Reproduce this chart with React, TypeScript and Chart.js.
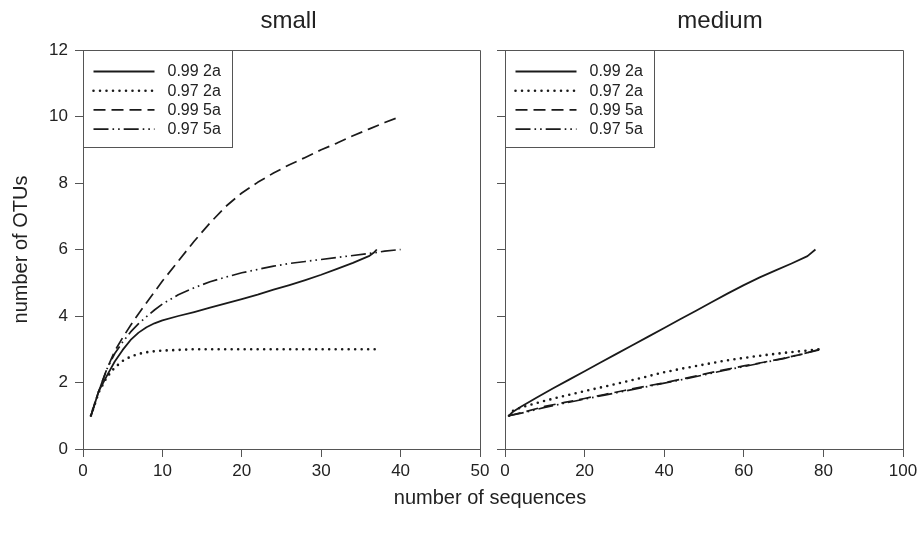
import React, { useEffect, useRef } from "react";
import { Chart, registerables } from "chart.js";

Chart.register(...registerables);

// ---------- data ----------
const seriesLabels = ["0.99 2a", "0.97 2a", "0.99 5a", "0.97 5a"];
const panelTitles = ["small", "medium"];
const yTitle = "number of OTUs";
const xTitle = "number of sequences";

// panel "small"
const small992aX = [1, 2, 3, 4, 5, 6, 7, 8, 9, 10, 12, 14, 16, 18, 20, 22, 24, 26, 28, 30, 32, 34, 36, 36.6, 37];
const small992aY = [1, 1.75, 2.2, 2.63, 2.98, 3.28, 3.5, 3.66, 3.78, 3.87, 4.0, 4.12, 4.25, 4.38, 4.51, 4.64, 4.79, 4.93, 5.08, 5.24, 5.42, 5.6, 5.8, 5.9, 6.0];

const small972aX = [1, 2, 3, 4, 5, 6, 7, 8, 9, 10, 12, 14, 20, 30, 37];
const small972aY = [1, 1.72, 2.16, 2.45, 2.65, 2.78, 2.86, 2.91, 2.94, 2.96, 2.98, 3.0, 3.0, 3.0, 3.0];

const small995aX = [1, 2, 3, 4, 5, 6, 7, 8, 10, 12, 14, 16, 18, 20, 22, 24, 26, 28, 30, 32, 34, 36, 38, 40];
const small995aY = [1, 1.75, 2.4, 2.95, 3.35, 3.72, 4.07, 4.4, 5.05, 5.65, 6.25, 6.8, 7.3, 7.7, 8.02, 8.3, 8.55, 8.77, 9.0, 9.2, 9.42, 9.62, 9.82, 10.0];

const small975aX = [1, 2, 3, 4, 5, 6, 7, 8, 9, 10, 12, 14, 16, 18, 20, 22, 24, 26, 28, 30, 32, 34, 36, 38, 40];
const small975aY = [1, 1.75, 2.4, 2.87, 3.22, 3.52, 3.77, 3.98, 4.18, 4.36, 4.64, 4.85, 5.03, 5.17, 5.3, 5.4, 5.5, 5.58, 5.64, 5.7, 5.76, 5.82, 5.88, 5.95, 6.0];

// panel "medium"
const medium992aX = [1, 2, 4, 8, 12, 16, 20, 24, 28, 32, 36, 40, 44, 48, 52, 56, 60, 64, 68, 72, 76, 78];
const medium992aY = [1, 1.12, 1.27, 1.55, 1.82, 2.08, 2.34, 2.6, 2.86, 3.12, 3.38, 3.64, 3.9, 4.16, 4.42, 4.68, 4.93, 5.16, 5.37, 5.58, 5.8, 6.0];

const medium972aX = [1, 2, 4, 10, 15, 20, 28, 35, 40, 45, 50, 55, 60, 65, 70, 75, 79];
const medium972aY = [1, 1.15, 1.25, 1.45, 1.6, 1.74, 1.96, 2.16, 2.31, 2.43, 2.54, 2.65, 2.74, 2.82, 2.89, 2.95, 3.0];

const medium995aX = [1, 5, 10, 15, 20, 25, 30, 35, 40, 45, 50, 55, 60, 65, 70, 75, 79];
const medium995aY = [1, 1.12, 1.28, 1.4, 1.52, 1.64, 1.76, 1.88, 1.99, 2.12, 2.25, 2.38, 2.5, 2.61, 2.73, 2.86, 3.0];

const medium975aX = [1, 5, 10, 15, 20, 25, 30, 35, 40, 45, 50, 55, 60, 65, 70, 75, 79];
const medium975aY = [1, 1.1, 1.25, 1.38, 1.5, 1.62, 1.74, 1.86, 1.98, 2.1, 2.23, 2.36, 2.48, 2.6, 2.72, 2.87, 2.98];

const yTicks = [0, 2, 4, 6, 8, 10, 12];

// ---------- styles ----------
const FONT = "'Liberation Sans', Arial, Helvetica, sans-serif";
const INK = "#1a1a1a";
const AXIS = "#555555";
const TEXT = "#222222";

const lineStyles = [
  { dash: [] as number[], width: 1.8, cap: "butt" as CanvasLineCap },
  { dash: [0, 6.5], width: 2.6, cap: "round" as CanvasLineCap },
  { dash: [12, 6], width: 1.7, cap: "butt" as CanvasLineCap },
  { dash: [15, 4, 1.6, 4, 1.6, 4], width: 1.7, cap: "butt" as CanvasLineCap },
];

function pts(xs: number[], ys: number[]) {
  return xs.map((x, i) => ({ x, y: ys[i] }));
}

function makeDatasets(series: [number[], number[]][]) {
  return series.map(([xs, ys], i) => ({
    label: seriesLabels[i],
    data: pts(xs, ys),
    borderColor: INK,
    borderWidth: lineStyles[i].width,
    borderDash: lineStyles[i].dash,
    borderCapStyle: lineStyles[i].cap,
    borderJoinStyle: "round" as CanvasLineJoin,
    pointRadius: 0,
    tension: 0,
    fill: false,
  }));
}

const framePlugin = {
  id: "frame",
  afterDraw(chart: any) {
    const { ctx, chartArea: a } = chart;
    ctx.save();
    ctx.strokeStyle = AXIS;
    ctx.lineWidth = 1;
    ctx.beginPath();
    ctx.moveTo(Math.round(a.left) + 0.5, Math.round(a.top) + 0.5);
    ctx.lineTo(Math.round(a.right) + 0.5, Math.round(a.top) + 0.5);
    ctx.lineTo(Math.round(a.right) + 0.5, Math.round(a.bottom) + 0.5);
    ctx.stroke();
    ctx.restore();
  },
};

const panelTitlePlugin = {
  id: "panelTitle",
  afterDraw(chart: any, _args: any, opts: any) {
    const { ctx, chartArea: a } = chart;
    ctx.save();
    ctx.fillStyle = TEXT;
    ctx.font = `24px ${FONT}`;
    ctx.textAlign = "center";
    ctx.textBaseline = "middle";
    ctx.fillText(opts.text, (a.left + a.right) / 2 + (opts.dx || 0), 21);
    ctx.restore();
  },
};

const boxLegendPlugin = {
  id: "boxLegend",
  afterDraw(chart: any) {
    const { ctx, chartArea: a } = chart;
    const left = Math.round(a.left) + 0.5;
    const top = Math.round(a.top) + 0.5;
    const w = 149;
    const h = 97;
    ctx.save();
    ctx.fillStyle = "#ffffff";
    ctx.fillRect(left, top, w, h);
    ctx.strokeStyle = AXIS;
    ctx.lineWidth = 1;
    ctx.strokeRect(left, top, w, h);
    chart.data.datasets.forEach((ds: any, i: number) => {
      const y = top + 21 + i * 19.2;
      ctx.beginPath();
      ctx.strokeStyle = INK;
      ctx.lineWidth = ds.borderWidth;
      ctx.lineCap = ds.borderCapStyle;
      ctx.setLineDash(ds.borderDash);
      ctx.moveTo(left + 10, y);
      ctx.lineTo(left + 71, y);
      ctx.stroke();
      ctx.setLineDash([]);
      ctx.fillStyle = TEXT;
      ctx.font = `16px ${FONT}`;
      ctx.textBaseline = "middle";
      ctx.textAlign = "left";
      ctx.fillText(ds.label, left + 84, y + 0.5);
    });
    ctx.restore();
  },
};

function makeConfig(
  datasets: any[],
  title: string,
  titleDx: number,
  xMax: number,
  xStep: number,
  yAxisWidth: number,
  showYLabels: boolean,
  padRight: number
): any {
  return {
    type: "line",
    data: { datasets },
    plugins: [framePlugin, boxLegendPlugin, panelTitlePlugin],
    options: {
      animation: false,
      responsive: false,
      devicePixelRatio: 1,
      events: [],
      layout: { padding: { left: 0, right: padRight, top: 50, bottom: 0 } },
      plugins: {
        legend: { display: false },
        tooltip: { enabled: false },
        title: { display: false },
        panelTitle: { text: title, dx: titleDx },
      },
      scales: {
        x: {
          type: "linear",
          min: 0,
          max: xMax,
          afterFit(scale: any) {
            scale.height = 41;
            scale.paddingLeft = 0;
            scale.paddingRight = 0;
          },
          ticks: {
            stepSize: xStep,
            color: TEXT,
            padding: 4,
            maxRotation: 0,
            autoSkip: false,
            font: { family: FONT, size: 17 },
          },
          grid: {
            display: true,
            drawOnChartArea: false,
            drawTicks: true,
            tickLength: 8,
            color: AXIS,
            lineWidth: 1,
          },
          border: { display: true, color: AXIS, width: 1 },
        },
        y: {
          type: "linear",
          min: 0,
          max: 12,
          afterFit(scale: any) {
            scale.width = yAxisWidth;
            scale.paddingTop = 0;
            scale.paddingBottom = 0;
          },
          afterBuildTicks(scale: any) {
            scale.ticks = yTicks.map((v) => ({ value: v }));
          },
          ticks: {
            display: showYLabels,
            color: TEXT,
            padding: 7,
            font: { family: FONT, size: 17 },
          },
          title: {
            display: showYLabels,
            text: yTitle,
            color: TEXT,
            font: { family: FONT, size: 20, lineHeight: 1.2 },
            padding: { top: 9, bottom: 0 },
          },
          grid: {
            display: true,
            drawOnChartArea: false,
            drawTicks: true,
            tickLength: 8,
            color: AXIS,
            lineWidth: 1,
          },
          border: { display: true, color: AXIS, width: 1 },
        },
      },
    },
  };
}

export default function App() {
  const leftRef = useRef<HTMLCanvasElement | null>(null);
  const rightRef = useRef<HTMLCanvasElement | null>(null);

  useEffect(() => {
    const left = new Chart(
      leftRef.current as HTMLCanvasElement,
      makeConfig(
        makeDatasets([
          [small992aX, small992aY],
          [small972aX, small972aY],
          [small995aX, small995aY],
          [small975aX, small975aY],
        ]),
        panelTitles[0],
        7,
        50,
        10,
        83,
        true,
        10
      )
    );
    const right = new Chart(
      rightRef.current as HTMLCanvasElement,
      makeConfig(
        makeDatasets([
          [medium992aX, medium992aY],
          [medium972aX, medium972aY],
          [medium995aX, medium995aY],
          [medium975aX, medium975aY],
        ]),
        panelTitles[1],
        16,
        100,
        20,
        15,
        false,
        17
      )
    );
    return () => {
      left.destroy();
      right.destroy();
    };
  }, []);

  return (
    <div
      style={{
        position: "absolute",
        left: 0,
        top: 0,
        width: 920,
        height: 533,
        background: "#ffffff",
        overflow: "hidden",
      }}
    >
      <canvas
        ref={leftRef}
        width={490}
        height={490}
        style={{ position: "absolute", left: 0, top: 0, width: 490, height: 490 }}
      />
      <canvas
        ref={rightRef}
        width={430}
        height={490}
        style={{ position: "absolute", left: 490, top: 0, width: 430, height: 490 }}
      />
      <div
        style={{
          position: "absolute",
          left: 0,
          top: 485,
          width: 980,
          textAlign: "center",
          fontFamily: FONT,
          fontSize: 20,
          lineHeight: "24px",
          color: TEXT,
        }}
      >
        {xTitle}
      </div>
    </div>
  );
}
